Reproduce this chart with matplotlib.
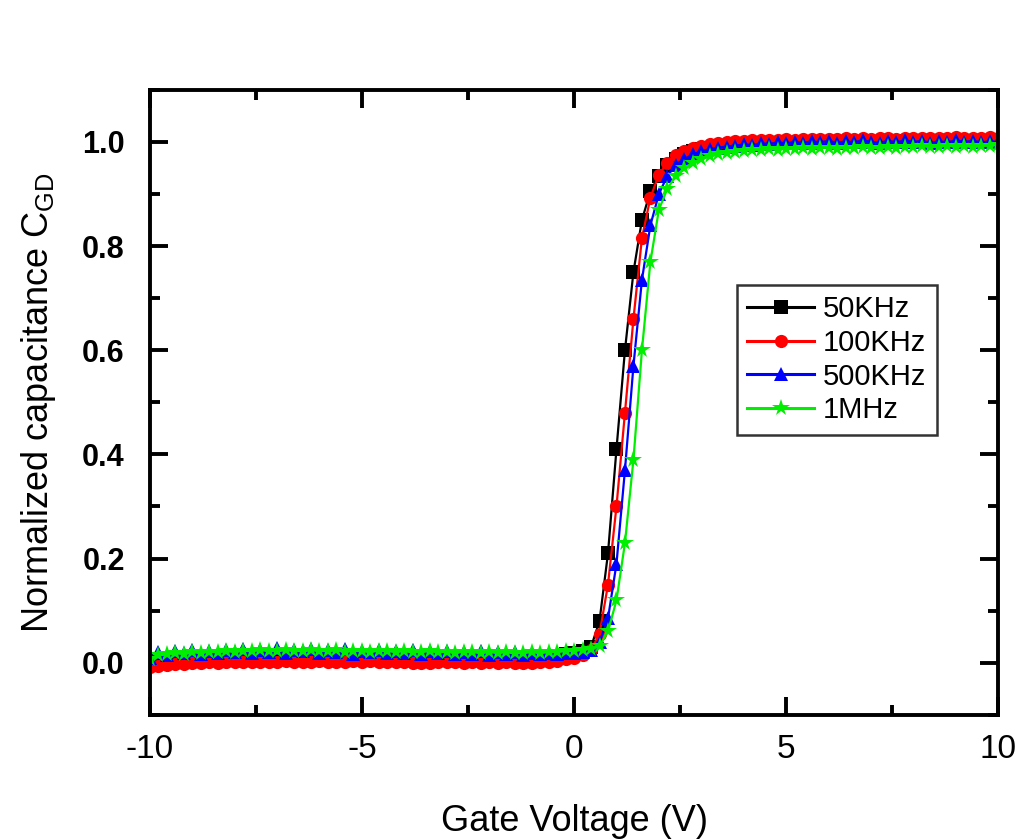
import numpy as np
import matplotlib.pyplot as plt
from matplotlib.ticker import MultipleLocator

# gate voltage sweep, -10 V to 10 V in 0.2 V steps
gate_voltage = np.linspace(-10, 10, 101)

# normalized C_GD (rows of 10 points = 2 V)
c_50k = [
    0.004, 0.006, 0.008, 0.009, 0.010, 0.010, 0.011, 0.010, 0.012, 0.011,
    0.012, 0.011, 0.013, 0.012, 0.012, 0.013, 0.012, 0.011, 0.012, 0.013,
    0.012, 0.011, 0.012, 0.011, 0.010, 0.011, 0.012, 0.011, 0.010, 0.011,
    0.010, 0.011, 0.010, 0.009, 0.010, 0.011, 0.010, 0.009, 0.010, 0.009,
    0.009, 0.010, 0.009, 0.008, 0.009, 0.010, 0.010, 0.011, 0.013, 0.016,
    0.018, 0.022, 0.030, 0.080, 0.210, 0.410, 0.600, 0.750, 0.850, 0.905,
    0.935, 0.955, 0.968, 0.976, 0.982, 0.986, 0.989, 0.991, 0.992, 0.993,
    0.994, 0.995, 0.996, 0.996, 0.997, 0.997, 0.998, 0.998, 0.998, 0.999,
    0.999, 0.998, 0.999, 1.000, 0.999, 1.000, 1.000, 0.999, 1.000, 1.001,
    1.000, 1.001, 1.000, 1.001, 1.001, 1.000, 1.001, 1.002, 1.001, 1.002,
    1.001,
]
c_100k = [
    -0.008, -0.006, -0.004, -0.003, -0.002, -0.001, 0.000, 0.001, 0.000, 0.001,
    0.001, 0.002, 0.001, 0.002, 0.001, 0.002, 0.003, 0.002, 0.001, 0.002,
    0.003, 0.002, 0.001, 0.002, 0.003, 0.002, 0.003, 0.002, 0.001, 0.002,
    0.001, 0.000, -0.001, 0.000, 0.001, 0.002, 0.001, 0.000, 0.001, 0.000,
    0.001, 0.000, 0.001, 0.000, -0.001, 0.000, 0.001, 0.002, 0.004, 0.007,
    0.010, 0.015, 0.025, 0.055, 0.150, 0.300, 0.480, 0.660, 0.815, 0.893,
    0.937, 0.960, 0.975, 0.983, 0.989, 0.993, 0.996, 0.998, 1.000, 1.001,
    1.002, 1.003, 1.003, 1.004, 1.004, 1.005, 1.004, 1.006, 1.005, 1.006,
    1.005, 1.006, 1.007, 1.006, 1.007, 1.006, 1.008, 1.007, 1.006, 1.007,
    1.008, 1.007, 1.008, 1.007, 1.008, 1.009, 1.008, 1.007, 1.008, 1.009,
    1.008,
]
c_500k = [
    0.010, 0.020, 0.015, 0.022, 0.018, 0.024, 0.016, 0.023, 0.019, 0.025,
    0.020, 0.026, 0.018, 0.024, 0.021, 0.028, 0.019, 0.025, 0.022, 0.027,
    0.018, 0.024, 0.020, 0.026, 0.017, 0.023, 0.020, 0.025, 0.018, 0.022,
    0.019, 0.024, 0.016, 0.022, 0.018, 0.023, 0.016, 0.021, 0.017, 0.022,
    0.015, 0.020, 0.016, 0.021, 0.015, 0.019, 0.016, 0.018, 0.017, 0.019,
    0.018, 0.020, 0.024, 0.040, 0.085, 0.190, 0.370, 0.570, 0.735, 0.840,
    0.900, 0.935, 0.955, 0.967, 0.976, 0.982, 0.986, 0.989, 0.991, 0.993,
    0.995, 0.994, 0.997, 0.996, 0.999, 0.997, 1.000, 0.998, 1.001, 0.999,
    1.002, 0.998, 1.001, 0.999, 1.003, 1.000, 0.998, 1.002, 0.999, 1.003,
    1.000, 1.002, 0.998, 1.001, 0.999, 1.003, 1.000, 1.002, 0.999, 1.001,
    1.000,
]
c_1m = [
    0.008, 0.014, 0.016, 0.018, 0.017, 0.020, 0.019, 0.021, 0.020, 0.022,
    0.021, 0.023, 0.022, 0.024, 0.023, 0.022, 0.024, 0.023, 0.022, 0.024,
    0.023, 0.022, 0.024, 0.021, 0.023, 0.022, 0.021, 0.023, 0.022, 0.021,
    0.022, 0.020, 0.021, 0.022, 0.020, 0.021, 0.019, 0.021, 0.020, 0.019,
    0.020, 0.019, 0.020, 0.018, 0.019, 0.020, 0.019, 0.020, 0.021, 0.022,
    0.023, 0.025, 0.027, 0.032, 0.060, 0.120, 0.230, 0.390, 0.600, 0.770,
    0.870, 0.910, 0.935, 0.950, 0.960, 0.967, 0.972, 0.976, 0.979, 0.981,
    0.983, 0.985, 0.984, 0.986, 0.985, 0.987, 0.986, 0.988, 0.987, 0.988,
    0.989, 0.987, 0.989, 0.988, 0.990, 0.989, 0.988, 0.990, 0.989, 0.991,
    0.990, 0.992, 0.990, 0.991, 0.993, 0.991, 0.992, 0.990, 0.992, 0.993,
    0.994,
]

series = [
    ('50KHz', c_50k, 'black', 's'),
    ('100KHz', c_100k, 'red', 'o'),
    ('500KHz', c_500k, 'blue', '^'),
    ('1MHz', c_1m, '#00ee00', '*'),
]

plt.rcParams['font.family'] = ['Liberation Sans', 'DejaVu Sans']
plt.rcParams['axes.unicode_minus'] = False

fig = plt.figure(figsize=(10.26, 8.39), dpi=100)
ax = fig.add_axes([0.146, 0.148, 0.827, 0.745])

for label, vals, color, marker in series:
    ms = 13 if marker == '*' else 9.5
    ax.plot(gate_voltage, vals, color=color, marker=marker, markersize=ms,
            linewidth=1.6, markeredgewidth=0, label=label)

ax.set_xlim(-10, 10)
ax.set_ylim(-0.1, 1.1)
ax.xaxis.set_major_locator(MultipleLocator(5))
ax.xaxis.set_minor_locator(MultipleLocator(2.5))
ax.yaxis.set_major_locator(MultipleLocator(0.2))
ax.yaxis.set_minor_locator(MultipleLocator(0.1))
ax.yaxis.set_major_formatter(plt.FormatStrFormatter('%.1f'))

for s in ax.spines.values():
    s.set_linewidth(2.8)
ax.tick_params(which='both', direction='in', top=True, right=True, width=2.8)
ax.tick_params(which='major', length=13)
ax.tick_params(which='minor', length=7)
ax.tick_params(axis='x', which='major', labelsize=24, pad=14)
ax.tick_params(axis='y', which='major', labelsize=22, pad=18)
for t in ax.get_yticklabels():
    t.set_fontweight('bold')

ax.set_xlabel('Gate Voltage (V)', fontsize=26, labelpad=28)
ax.set_ylabel('Normalized capacitance C$_{\\mathregular{GD}}$', fontsize=26)
ax.yaxis.set_label_coords(-0.108, 0.5)

leg = ax.legend(loc='upper left', bbox_to_anchor=(0.692, 0.688),
                borderaxespad=0, frameon=True, fancybox=False,
                edgecolor='black', handlelength=2.3, handletextpad=0.3,
                labelspacing=0.2, borderpad=0.35, prop={'size': 21})
leg.get_frame().set_linewidth(1.8)
for h in leg.get_lines():
    h.set_linewidth(2.2)

fig.savefig('out.png', dpi=100)
